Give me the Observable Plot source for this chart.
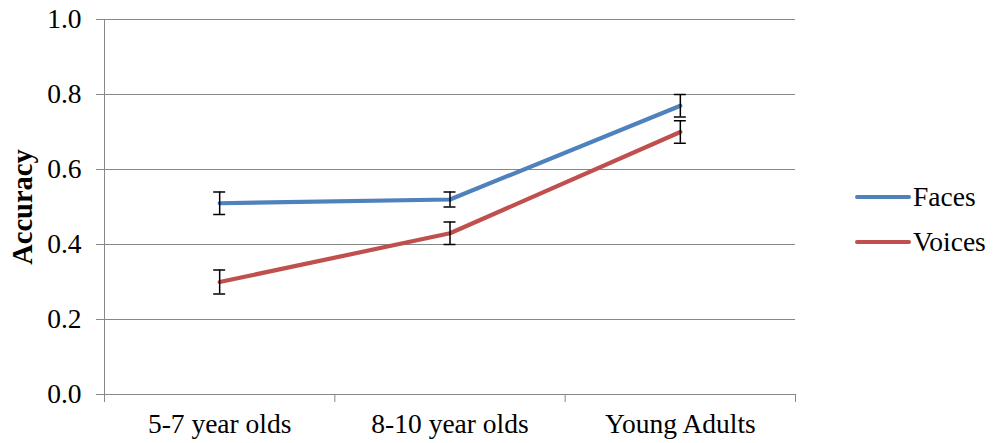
<!DOCTYPE html>
<html>
<head>
<meta charset="utf-8">
<script src="https://cdn.jsdelivr.net/npm/d3@7"></script>
<script src="https://cdn.jsdelivr.net/npm/@observablehq/plot@0.6"></script>
<style>
  html, body { margin: 0; padding: 0; background: #fff; }
  #wrap { position: relative; width: 993px; height: 443px; font-family: "Liberation Serif", "Times New Roman", serif; }
  #legend { position: absolute; left: 855px; top: 182px; font-size: 27.5px; color: #000; line-height: 30px; }
  .item { display: flex; align-items: center; height: 30px; margin-bottom: 15px; }
  .swatch { width: 56px; height: 4px; border-radius: 2px; margin-right: 2px; }
  svg text { font-family: "Liberation Serif", "Times New Roman", serif; }
</style>
</head>
<body>
<div id="wrap">
  <div id="chart"></div>
  <div id="legend"></div>
</div>
<script>
const categories = ["5-7 year olds", "8-10 year olds", "Young Adults"];
const seriesNames = ["Faces", "Voices"];
const seriesColors = ["#4F81BD", "#C0504D"];
const faces = [0.51, 0.52, 0.77];
const facesErr = [0.03, 0.02, 0.03];
const voices = [0.30, 0.43, 0.70];
const voicesErr = [0.032, 0.03, 0.03];
const yTicks = [0, 0.2, 0.4, 0.6, 0.8, 1.0];

const rows = categories.flatMap((c, i) => [
  {i, cat: c, series: "Faces", v: faces[i], e: facesErr[i]},
  {i, cat: c, series: "Voices", v: voices[i], e: voicesErr[i]}
]);

const gray = "#878787";
const capHalf = 0.026;

const svg = Plot.plot({
  width: 993,
  height: 443,
  marginLeft: 104,
  marginRight: 198,
  marginTop: 19,
  marginBottom: 49,
  style: {fontFamily: "Liberation Serif", fontSize: "27.5px", color: "#000", background: "#fff"},
  x: {type: "linear", domain: [-0.5, categories.length - 0.5]},
  y: {domain: [0, 1]},
  color: {domain: seriesNames, range: seriesColors},
  marks: [
    Plot.gridY(yTicks.slice(1), {stroke: gray, strokeOpacity: 1, strokeWidth: 1}),
    Plot.ruleY([0], {stroke: gray, strokeWidth: 1}),
    Plot.ruleX([-0.5], {stroke: gray, strokeWidth: 1}),
    Plot.axisY({
      ticks: yTicks, tickFormat: d => d.toFixed(1), tickSize: 8, tickPadding: 15,
      stroke: gray, label: "Accuracy", labelAnchor: "center", labelArrow: "none", labelOffset: 93
    }),
    Plot.axisX({ticks: [-0.5, 0.5, 1.5, 2.5], tickSize: 8, tickFormat: () => "", label: null, stroke: gray}),
    Plot.axisX({ticks: [0, 1, 2], tickSize: 0, tickPadding: 19, tickFormat: i => categories[i], label: null}),
    Plot.line(rows, {x: "i", y: "v", z: "series", stroke: "series", strokeWidth: 4.2, strokeLinecap: "round"}),
    Plot.ruleX(rows, {x: "i", y1: d => d.v - d.e, y2: d => d.v + d.e, stroke: "#000", strokeWidth: 1.5}),
    Plot.ruleY(rows, {y: d => d.v - d.e, x1: d => d.i - capHalf, x2: d => d.i + capHalf, stroke: "#000", strokeWidth: 1.5}),
    Plot.ruleY(rows, {y: d => d.v + d.e, x1: d => d.i - capHalf, x2: d => d.i + capHalf, stroke: "#000", strokeWidth: 1.5})
  ]
});

d3.select(svg).selectAll('[aria-label="y-axis label"] text')
  .attr("font-weight", "bold").attr("font-size", "28.5px");
document.getElementById("chart").appendChild(svg);

const legend = d3.select("#legend");
seriesNames.forEach((n, k) => {
  const it = legend.append("div").attr("class", "item");
  it.append("div").attr("class", "swatch").style("background", seriesColors[k]);
  it.append("span").text(n);
});
</script>
</body>
</html>
